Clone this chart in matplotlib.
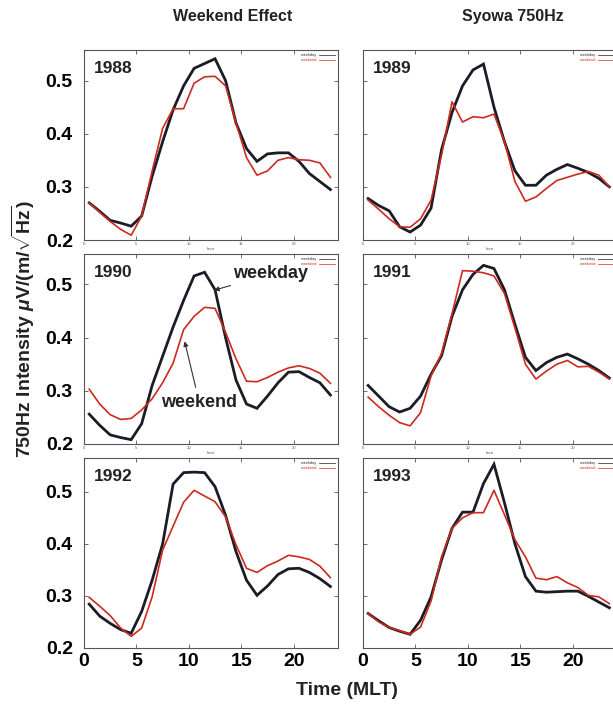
import matplotlib
matplotlib.use("Agg")
import matplotlib.pyplot as plt
from matplotlib.lines import Line2D

plt.rcParams['font.family'] = ['Liberation Sans', 'DejaVu Sans']
plt.rcParams['mathtext.fontset'] = 'custom'
plt.rcParams['mathtext.rm'] = 'Liberation Sans:bold'
plt.rcParams['mathtext.bf'] = 'Liberation Sans:bold'
plt.rcParams['mathtext.it'] = 'Liberation Sans:bold:italic'

# hourly bins (MLT)
hours = [0.5, 1.5, 2.5, 3.5, 4.5, 5.5, 6.5, 7.5, 8.5, 9.5, 10.5, 11.5,
         12.5, 13.5, 14.5, 15.5, 16.5, 17.5, 18.5, 19.5, 20.5, 21.5, 22.5, 23.5]

years = [1988, 1989, 1990, 1991, 1992, 1993]

weekday_1988 = [0.270, 0.254, 0.237, 0.232, 0.226, 0.245, 0.320, 0.385, 0.445, 0.490, 0.523, 0.532,
                0.541, 0.500, 0.420, 0.372, 0.348, 0.362, 0.364, 0.364, 0.348, 0.325, 0.310, 0.295]
weekend_1988 = [0.270, 0.252, 0.235, 0.220, 0.209, 0.245, 0.330, 0.410, 0.447, 0.447, 0.495, 0.507,
                0.508, 0.490, 0.420, 0.355, 0.322, 0.330, 0.350, 0.355, 0.351, 0.350, 0.345, 0.318]

weekday_1989 = [0.278, 0.265, 0.255, 0.225, 0.215, 0.228, 0.260, 0.370, 0.440, 0.490, 0.520, 0.531,
                0.450, 0.385, 0.330, 0.303, 0.303, 0.322, 0.333, 0.342, 0.335, 0.327, 0.316, 0.300]
weekend_1989 = [0.275, 0.258, 0.240, 0.225, 0.224, 0.240, 0.275, 0.360, 0.460, 0.422, 0.432, 0.430,
                0.437, 0.385, 0.310, 0.273, 0.281, 0.297, 0.312, 0.318, 0.324, 0.329, 0.322, 0.300]

weekday_1990 = [0.256, 0.235, 0.217, 0.212, 0.208, 0.238, 0.310, 0.365, 0.420, 0.470, 0.516, 0.523,
                0.490, 0.400, 0.320, 0.275, 0.267, 0.290, 0.315, 0.335, 0.336, 0.325, 0.315, 0.292]
weekend_1990 = [0.303, 0.275, 0.255, 0.246, 0.248, 0.264, 0.285, 0.315, 0.352, 0.415, 0.440, 0.457,
                0.455, 0.410, 0.360, 0.318, 0.317, 0.325, 0.335, 0.343, 0.347, 0.342, 0.333, 0.314]

weekday_1991 = [0.310, 0.290, 0.270, 0.260, 0.267, 0.290, 0.331, 0.366, 0.440, 0.490, 0.519, 0.536,
                0.530, 0.490, 0.425, 0.363, 0.338, 0.353, 0.363, 0.369, 0.360, 0.350, 0.338, 0.324]
weekend_1991 = [0.288, 0.270, 0.254, 0.240, 0.234, 0.259, 0.328, 0.370, 0.445, 0.526, 0.525, 0.522,
                0.516, 0.483, 0.418, 0.350, 0.322, 0.337, 0.350, 0.357, 0.345, 0.346, 0.335, 0.322]

weekday_1992 = [0.284, 0.261, 0.247, 0.235, 0.228, 0.270, 0.330, 0.400, 0.515, 0.537, 0.538, 0.537,
                0.510, 0.455, 0.385, 0.330, 0.301, 0.319, 0.341, 0.352, 0.353, 0.345, 0.333, 0.318]
weekend_1992 = [0.297, 0.280, 0.262, 0.238, 0.222, 0.238, 0.298, 0.388, 0.434, 0.480, 0.503, 0.492,
                0.481, 0.452, 0.398, 0.353, 0.345, 0.358, 0.367, 0.378, 0.375, 0.370, 0.357, 0.335]

weekday_1993 = [0.266, 0.252, 0.239, 0.232, 0.226, 0.253, 0.298, 0.369, 0.430, 0.461, 0.461, 0.516,
                0.553, 0.479, 0.400, 0.337, 0.309, 0.307, 0.308, 0.309, 0.309, 0.299, 0.288, 0.277]
weekend_1993 = [0.266, 0.250, 0.239, 0.233, 0.226, 0.240, 0.290, 0.375, 0.430, 0.450, 0.460, 0.460,
                0.503, 0.456, 0.408, 0.375, 0.334, 0.331, 0.337, 0.325, 0.316, 0.301, 0.298, 0.285]

weekday = [weekday_1988, weekday_1989, weekday_1990, weekday_1991, weekday_1992, weekday_1993]
weekend = [weekend_1988, weekend_1989, weekend_1990, weekend_1991, weekend_1992, weekend_1993]

xticks = [0, 5, 10, 15, 20]
yticks = [0.2, 0.3, 0.4, 0.5]

BLACK = '#1c1c28'
RED = '#cc2a1e'

fig = plt.figure(figsize=(6.13, 7.08), dpi=100)

col_left = [0.137, 0.592]
width = 0.414
row_bottom = [0.661, 0.373, 0.085]
height = 0.268
row_ytop = [0.557, 0.557, 0.565]

for i, year in enumerate(years):
    row, col = divmod(i, 2)
    ax = fig.add_axes([col_left[col], row_bottom[row], width, height])
    ax.plot(hours, weekday[i], color=BLACK, lw=2.0, solid_joinstyle='miter')
    ax.plot(hours, weekend[i], color=RED, lw=1.2)
    ax.set_xlim(0, 24.2)
    ax.set_ylim(0.2, row_ytop[row])
    ax.set_xticks(xticks)
    ax.set_yticks(yticks)
    for s in ax.spines.values():
        s.set_color('#555555')
        s.set_linewidth(0.8)
    ax.tick_params(direction='in', length=3, width=0.6, top=True, right=True,
                   color='#555555')

    if row == 2:
        ax.tick_params(axis='x', labelsize=14, pad=4)
        for lab in ax.get_xticklabels():
            lab.set_fontweight('bold')
    else:
        ax.tick_params(axis='x', labelsize=3, pad=1.5, labelcolor='#555555')
        ax.set_xlabel('hour', fontsize=3, labelpad=0.5, color='#555555')

    if col == 0:
        ax.tick_params(axis='y', labelsize=14, pad=8)
        ax.set_yticklabels(['0.2', '0.3', '0.4', '0.5'], fontweight='bold')
    else:
        ax.tick_params(axis='y', labelleft=False)

    ax.text(0.04, 0.905, str(year), transform=ax.transAxes, fontsize=12.5,
            fontweight='bold', va='center', ha='left', color='#222222')

    handles = [Line2D([], [], color=BLACK, lw=0.5), Line2D([], [], color=RED, lw=0.5)]
    ax.legend(handles, ['weekday', 'weekend'], loc='upper right', fontsize=2.8,
              frameon=False, markerfirst=False, handlelength=4,
              borderaxespad=0.4, labelspacing=0.2, labelcolor=['#333333', RED])

    if year == 1990:
        ax.annotate('weekday', xy=(12.4, 0.489), xytext=(14.2, 0.52),
                    fontsize=13, fontweight='bold', ha='left', va='center',
                    color='#222222',
                    arrowprops=dict(arrowstyle='-|>', color='#333333', lw=0.8,
                                    mutation_scale=7, shrinkA=1, shrinkB=0))
        ax.annotate('weekend', xy=(9.6, 0.393), xytext=(11.0, 0.2775),
                    fontsize=13, fontweight='bold', ha='center', va='center',
                    color='#222222',
                    arrowprops=dict(arrowstyle='-|>', color='#333333', lw=0.8,
                                    mutation_scale=7, shrinkA=3, shrinkB=0))

fig.text(0.380, 0.976, 'Weekend Effect', fontsize=11.5, fontweight='bold',
         ha='center', va='center', color='#222222')
fig.text(0.837, 0.976, 'Syowa 750Hz', fontsize=11.5, fontweight='bold',
         ha='center', va='center', color='#222222')
fig.text(0.039, 0.535, r'750Hz Intensity $\mu$V/(m/$\sqrt{\rm Hz}$)', rotation=90,
         fontsize=14, fontweight='bold', ha='center', va='center', color='#222222')
fig.text(0.566, 0.025, 'Time (MLT)', fontsize=14, fontweight='bold',
         ha='center', va='center', color='#222222')

fig.savefig('out.png', dpi=100, facecolor='white')
